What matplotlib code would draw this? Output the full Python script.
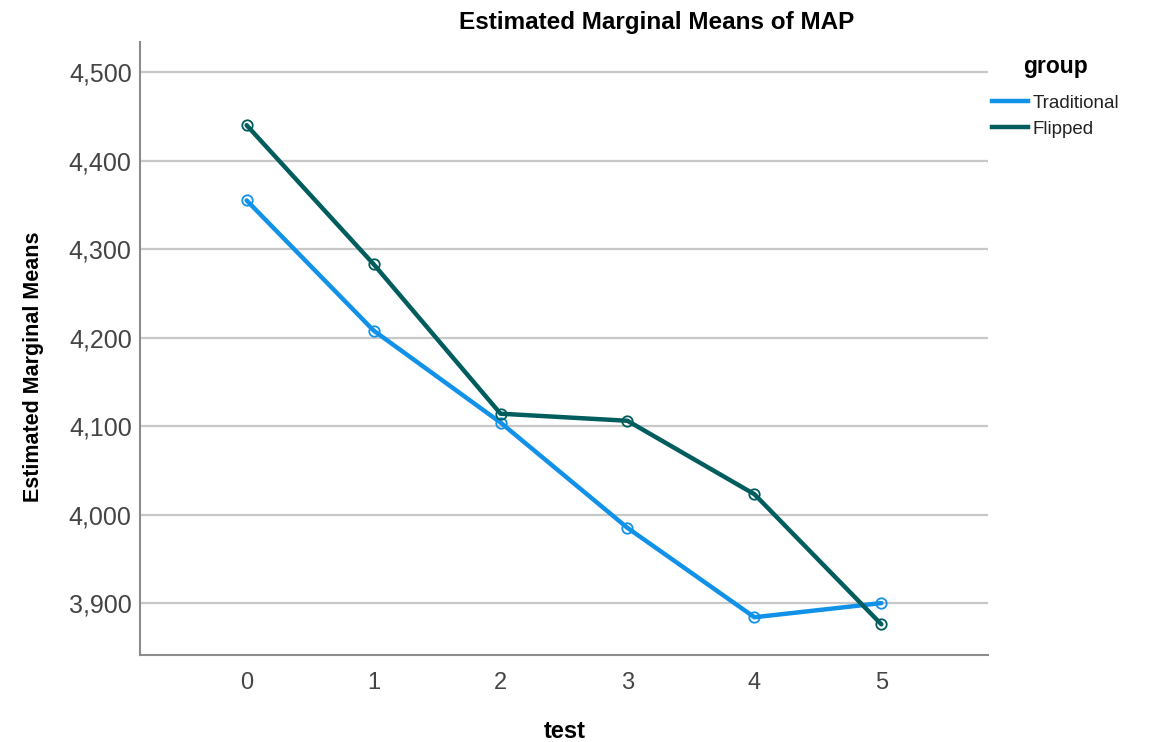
import matplotlib
matplotlib.use("Agg")
import matplotlib.pyplot as plt
from matplotlib.lines import Line2D
from matplotlib.ticker import FuncFormatter

tests = [0, 1, 2, 3, 4, 5]
traditional = [4355, 4208, 4104, 3985, 3884, 3900]
flipped = [4440, 4283, 4114, 4106, 4023, 3876]
series_names = ["Traditional", "Flipped"]
colors = ["#1192e8", "#005d5d"]
yticks = [3900, 4000, 4100, 4200, 4300, 4400, 4500]

plt.rcParams['font.family'] = ['Liberation Sans', 'DejaVu Sans']

W, H = 1153, 742
fig = plt.figure(figsize=(W / 100, H / 100), dpi=100)
ax = fig.add_axes([140 / W, 1 - 655.3 / H, 848 / W, 613.3 / H])

lines = []
for vals, name, c in zip([traditional, flipped], series_names, colors):
    ln, = ax.plot(tests, vals, color=c, lw=3.2, label=name, zorder=3,
                  marker='o', markersize=7.5, markerfacecolor='none',
                  markeredgecolor=c, markeredgewidth=1.3, solid_capstyle='round')
    lines.append(ln)

ax.set_xlim(-0.84, 5.84)
ax.set_ylim(3841, 4534)
ax.set_xticks(tests)
ax.set_yticks(yticks)
ax.yaxis.set_major_formatter(FuncFormatter(lambda v, p: f"{int(v):,}"))
ax.grid(axis='y', color='#c8c8c8', lw=1.6, zorder=0)
ax.set_axisbelow(True)
for s in ['top', 'right']:
    ax.spines[s].set_visible(False)
for s in ['left', 'bottom']:
    ax.spines[s].set_color('#8c8c8c')
    ax.spines[s].set_linewidth(1.5)
ax.tick_params(axis='both', length=0, colors='#444444')
ax.tick_params(axis='y', labelsize=18, pad=6)
ax.tick_params(axis='x', labelsize=17, pad=12)

# axis titles
fig.text(34 / W, 1 - 367 / H, "Estimated Marginal Means", rotation=90,
         ha='center', va='center', fontsize=15.5, fontweight='bold')
fig.text(565 / W, 1 - 731 / H, "test", ha='center', va='center',
         fontsize=17, fontweight='bold')

fig.text(657 / W, 1 - 22 / H, "Estimated Marginal Means of MAP",
         ha='center', va='center', fontsize=17.5, fontweight='bold')

# legend
fig.text(1023 / W, 1 - 73 / H, "group", ha='left', va='baseline',
         fontsize=16.5, fontweight='bold')
for i, ln in enumerate(lines):
    yc = 101 + 26 * i
    fig.add_artist(Line2D([992 / W, 1028 / W], [1 - yc / H, 1 - yc / H],
                          transform=fig.transFigure, color=ln.get_color(), lw=3.2))
    fig.text(1033 / W, 1 - (yc + 7) / H, ln.get_label(), ha='left', va='baseline',
             fontsize=13.5, color='#222222')

fig.savefig("out.png", dpi=100)
